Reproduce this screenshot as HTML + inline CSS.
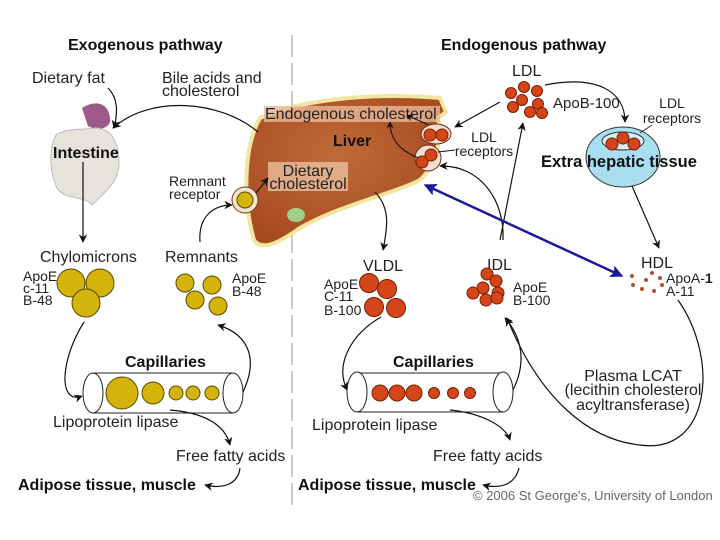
<!DOCTYPE html>
<html><head><meta charset="utf-8"><style>
html,body{margin:0;padding:0;background:#fff;}
svg{display:block;font-family:"Liberation Sans",sans-serif;}
</style></head><body>
<svg width="720" height="540" viewBox="0 0 720 540" xmlns="http://www.w3.org/2000/svg">
<defs>
<marker id="a" viewBox="0 0 10 10" refX="9" refY="5" markerWidth="7" markerHeight="7" orient="auto"><path d="M0,0 L10,5 L0,10 L3,5 z" fill="#111"/></marker>
<marker id="b" viewBox="0 0 10 10" refX="9" refY="5" markerWidth="5" markerHeight="5" orient="auto-start-reverse"><path d="M0,0 L10,5 L0,10 L2,5 z" fill="#1a1a9a"/></marker>
<radialGradient id="lg" cx="0.45" cy="0.4" r="0.7"><stop offset="0" stop-color="#c06a38"/><stop offset="1" stop-color="#a4481e"/></radialGradient>
</defs>
<line x1="292" y1="35" x2="292" y2="505" stroke="#c8c8c8" stroke-width="2" stroke-dasharray="22,6"/>
<!-- liver -->
<path d="M260,118 C300,100 370,92 440,98 L446,112 L438,118 C442,140 436,165 420,180 C390,195 340,205 300,228 C280,242 262,252 254,240 C244,205 242,150 260,118 Z" fill="url(#lg)" stroke="#f0e6a0" stroke-width="4"/>
<ellipse cx="296" cy="215" rx="9" ry="7" fill="#9fd08a"/>
<rect x="264" y="106" width="176" height="16" fill="#e8b898" opacity="0.8"/>
<text x="265" y="119" font-size="16" fill="#222">Endogenous cholesterol</text>
<text x="333" y="146" font-size="16" font-weight="bold" fill="#111">Liver</text>
<rect x="268" y="162" width="80" height="29" fill="#e8b898" opacity="0.85"/>
<text x="308" y="176" font-size="16" text-anchor="middle" fill="#222">Dietary</text>
<text x="308" y="189" font-size="16" text-anchor="middle" fill="#222">cholesterol</text>
<circle cx="245" cy="200" r="13" fill="#f3e4d2" stroke="#7a3a1a"/>
<circle cx="245" cy="200" r="8" fill="#d4b40a" stroke="#5a4a00"/>
<ellipse cx="436" cy="134" rx="15" ry="10" fill="#f3ddd0" stroke="#6a2a10"/>
<circle cx="430" cy="135" r="6" fill="#d4451a" stroke="#7a2000"/><circle cx="442" cy="135" r="6" fill="#d4451a" stroke="#7a2000"/>
<circle cx="428" cy="158" r="13" fill="#f3ddd0" stroke="#6a2a10"/>
<circle cx="422" cy="162" r="6" fill="#d4451a" stroke="#7a2000"/><circle cx="431" cy="155" r="6" fill="#d4451a" stroke="#7a2000"/>
<!-- intestine -->
<path d="M82,108 C95,100 108,102 110,118 C112,128 98,132 88,126 Z" fill="#9c5a8a"/>
<path d="M56,135 C48,150 50,175 58,190 C68,200 85,196 92,205 C105,192 120,182 119,160 C118,140 110,128 95,128 C80,130 66,128 56,135 Z" fill="#e6e2dc" stroke="#bbb"/>
<text x="53" y="158" font-size="16" font-weight="bold" fill="#111">Intestine</text>
<!-- titles -->
<text x="68" y="50" font-size="16" font-weight="bold" fill="#111">Exogenous pathway</text>
<text x="441" y="50" font-size="16" font-weight="bold" fill="#111">Endogenous pathway</text>
<g font-size="16" fill="#222">
<text x="32" y="83">Dietary fat</text>
<text x="162" y="83">Bile acids and</text><text x="162" y="96">cholesterol</text>
<text x="40" y="262">Chylomicrons</text>
<text x="165" y="262">Remnants</text>
<text x="363" y="271">VLDL</text>
<text x="487" y="270">IDL</text>
<text x="641" y="268">HDL</text>
<text x="512" y="76">LDL</text>
<text x="553" y="108" font-size="15">ApoB-100</text>
<text x="53" y="427">Lipoprotein lipase</text>
<text x="176" y="461">Free fatty acids</text>
<text x="312" y="430">Lipoprotein lipase</text>
<text x="433" y="461">Free fatty acids</text>
<text x="633" y="381" text-anchor="middle">Plasma LCAT</text>
<text x="633" y="395" text-anchor="middle">(lecithin cholesterol</text>
<text x="633" y="410" text-anchor="middle">acyltransferase)</text>
</g>
<g font-size="14" fill="#222">
<text x="23" y="281">ApoE</text><text x="23" y="293">c-11</text><text x="23" y="305">B-48</text>
<text x="232" y="283">ApoE</text><text x="232" y="296">B-48</text>
<text x="324" y="289">ApoE</text><text x="324" y="301">C-11</text><text x="324" y="315">B-100</text>
<text x="513" y="292">ApoE</text><text x="513" y="305">B-100</text>
<text x="666" y="283">ApoA-<tspan font-weight="bold">1</tspan></text><text x="666" y="296">A-11</text>
</g>
<!-- extra hepatic -->
<ellipse cx="623" cy="157" rx="37" ry="30" fill="#a9def0" stroke="#333"/>
<ellipse cx="623" cy="141" rx="21" ry="9" fill="#d6f0f8" stroke="#333"/>
<circle cx="612" cy="144" r="6" fill="#d4451a" stroke="#7a2000"/><circle cx="623" cy="138" r="6" fill="#d4451a" stroke="#7a2000"/><circle cx="634" cy="144" r="6" fill="#d4451a" stroke="#7a2000"/>
<line x1="640" y1="133" x2="652" y2="125" stroke="#333" stroke-width="1"/>
<text x="541" y="167" font-size="16.5" font-weight="bold" fill="#111">Extra hepatic tissue</text>
<g font-size="14" fill="#222">
<text x="169" y="186">Remnant</text><text x="169" y="199">receptor</text>
<text x="484" y="142" text-anchor="middle">LDL</text><text x="484" y="156" text-anchor="middle">receptors</text>
<text x="672" y="108" text-anchor="middle">LDL</text><text x="672" y="123" text-anchor="middle">receptors</text>
</g>
<g font-size="16" font-weight="bold" fill="#111">
<text x="125" y="367">Capillaries</text>
<text x="393" y="367">Capillaries</text>
<text x="18" y="490">Adipose tissue, muscle</text>
<text x="298" y="490">Adipose tissue, muscle</text>
</g>
<text x="473" y="500" font-size="13" fill="#666">© 2006 St George's, University of London</text>
<!-- yellow particles -->
<g fill="#d4b40a" stroke="#5a4a00">
<circle cx="71" cy="283" r="14"/><circle cx="100" cy="283" r="14"/><circle cx="86" cy="303" r="14"/>
<circle cx="185" cy="283" r="9"/><circle cx="212" cy="285" r="9"/><circle cx="195" cy="300" r="9"/><circle cx="218" cy="306" r="9"/>
</g>
<!-- capillaries left -->
<line x1="93" y1="373" x2="233" y2="373" stroke="#222"/><line x1="93" y1="413" x2="233" y2="413" stroke="#222"/>
<ellipse cx="93" cy="393" rx="10" ry="20" fill="#fff" stroke="#222"/>
<ellipse cx="233" cy="393" rx="10" ry="20" fill="#fff" stroke="#222"/>
<g fill="#d4b40a" stroke="#5a4a00">
<circle cx="122" cy="393" r="16"/><circle cx="153" cy="393" r="11"/><circle cx="176" cy="393" r="7"/><circle cx="193" cy="393" r="7"/><circle cx="212" cy="393" r="7"/>
</g>
<!-- capillaries right -->
<line x1="357" y1="373" x2="503" y2="373" stroke="#222"/><line x1="357" y1="412" x2="503" y2="412" stroke="#222"/>
<ellipse cx="357" cy="392" rx="10" ry="20" fill="#fff" stroke="#222"/>
<ellipse cx="503" cy="392" rx="10" ry="20" fill="#fff" stroke="#222"/>
<g fill="#d4451a" stroke="#7a2000">
<circle cx="380" cy="393" r="8"/><circle cx="397" cy="393" r="8"/><circle cx="414" cy="393" r="8"/><circle cx="434" cy="393" r="5.5"/><circle cx="453" cy="393" r="5.5"/><circle cx="470" cy="393" r="5.5"/>
<circle cx="369" cy="283" r="9.5"/><circle cx="387" cy="289" r="9.5"/><circle cx="374" cy="307" r="9.5"/><circle cx="396" cy="308" r="9.5"/>
<circle cx="487" cy="274" r="6"/><circle cx="496" cy="281" r="6"/><circle cx="483" cy="288" r="6"/><circle cx="498" cy="293" r="6"/><circle cx="473" cy="293" r="6"/><circle cx="486" cy="300" r="6"/><circle cx="497" cy="298" r="6"/>
<circle cx="524" cy="87" r="5.5"/><circle cx="537" cy="91" r="5.5"/><circle cx="511" cy="93" r="5.5"/><circle cx="522" cy="100" r="5.5"/><circle cx="538" cy="104" r="5.5"/><circle cx="513" cy="107" r="5.5"/><circle cx="530" cy="112" r="5.5"/><circle cx="542" cy="113" r="5.5"/>
</g>
<g fill="#b0502a">
<circle cx="632" cy="276" r="2"/><circle cx="646" cy="280" r="2"/><circle cx="652" cy="273" r="2"/><circle cx="660" cy="278" r="2"/><circle cx="633" cy="285" r="2"/><circle cx="642" cy="289" r="2"/><circle cx="654" cy="291" r="2"/><circle cx="662" cy="285" r="2"/>
</g>
<!-- arrows -->
<g fill="none" stroke="#111" stroke-width="1.2" marker-end="url(#a)">
<path d="M108,88 C118,98 118,112 114,128"/>
<path d="M258,132 C220,100 150,95 113,128"/>
<path d="M83,162 L83,242"/>
<path d="M84,322 C60,360 58,405 82,396"/>
<path d="M243,392 C258,360 250,335 218,325"/>
<path d="M200,242 C198,215 215,205 232,205"/>
<path d="M256,193 L268,178"/>
<path d="M170,410 C205,413 225,425 230,445"/>
<path d="M240,468 C238,485 222,489 205,485"/>
<path d="M375,192 C390,208 388,225 383,250"/>
<path d="M381,317 C350,335 335,365 347,390"/>
<path d="M513,390 C528,360 520,335 505,318"/>
<path d="M450,410 C480,413 505,425 510,440"/>
<path d="M519,468 C515,485 500,489 483,485"/>
<path d="M500,102 L455,127"/>
<path d="M500,240 L523,123"/>
<path d="M503,240 C505,200 480,165 440,166"/>
<path d="M545,85 C595,75 625,90 625,122"/>
<path d="M632,186 L659,248"/>
<path d="M678,300 C720,360 710,455 640,445 C590,440 540,400 507,318"/>
<path d="M428,125 C420,120 415,120 407,115" stroke-width="1"/>
<path d="M418,158 C400,150 390,140 390,122" stroke-width="1"/>
</g>
<path d="M438,152 L455,150" stroke="#111" stroke-width="1"/>
<path d="M425,185 L622,276" stroke="#1a1a9a" stroke-width="2.5" marker-start="url(#b)" marker-end="url(#b)"/>
</svg>
</body></html>
